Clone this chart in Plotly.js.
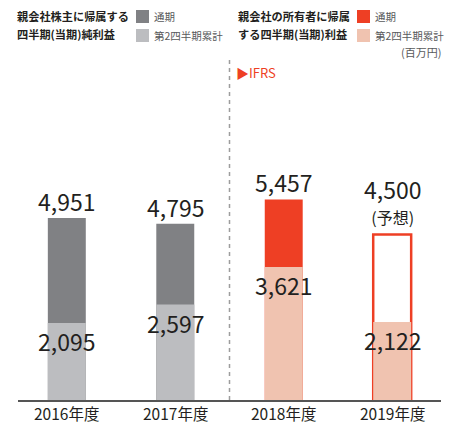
<!DOCTYPE html>
<html>
<head>
<meta charset="utf-8">
<script src="https://cdn.plot.ly/plotly-3.0.1.min.js"></script>
<style>html,body{margin:0;padding:0;background:#fff;}#chart{width:457px;height:424px;}</style>
</head>
<body>
<div id="chart"></div>
<script>
// ---- data ----
const categories = ['2016年度', '2017年度', '2018年度', '2019年度'];
const fullYear = [4951, 4795, 5457, 4500];     // 通期
const secondQuarter = [2095, 2597, 3621, 2122]; // 第2四半期累計
const forecastFlags = [false, false, false, true]; // 2019 is 予想

// ---- styling ----
const FONT = '"Noto Sans CJK JP", "Noto Sans", sans-serif';
const TXT = '#231f20';
const GRAY_DARK = '#808184';
const GRAY_LIGHT = '#bcbdc0';
const RED = '#ee3f24';
const SALMON = '#f0c3b0';
const isIFRS = [false, false, true, true];

const W = 457, H = 424;
const M = {l: 18, r: 16, t: 60, b: 24};
const PW = W - M.l - M.r, PH = H - M.t - M.b;
const px = x => (x - M.l) / PW;
const py = y => (H - M.b - y) / PH;

const fmt = v => v.toLocaleString('en-US');

const topColors = fullYear.map((v, i) => forecastFlags[i] ? '#ffffff' : (isIFRS[i] ? RED : GRAY_DARK));
const topLineColors = fullYear.map((v, i) => forecastFlags[i] ? RED : 'rgba(0,0,0,0)');
const topLineWidths = fullYear.map((v, i) => forecastFlags[i] ? 2.5 : 0);
const lowColors = secondQuarter.map((v, i) => isIFRS[i] ? SALMON : GRAY_LIGHT);

const traces = [
  {type: 'bar', x: categories, y: fullYear, width: 0.35,
   marker: {color: topColors, line: {color: topLineColors, width: topLineWidths}},
   hoverinfo: 'skip', showlegend: false},
  {type: 'bar', x: categories, y: secondQuarter, width: 0.35,
   marker: {color: lowColors, line: {width: 0}},
   hoverinfo: 'skip', showlegend: false}
];

const annotations = [];
categories.forEach((c, i) => {
  if (forecastFlags[i]) {
    annotations.push({x: c, y: fullYear[i], xref: 'x', yref: 'y',
      text: '<span style="font-size:23px">' + fmt(fullYear[i]) + '</span><br><span style="font-size:16px">(予想)</span>',
      showarrow: false, yanchor: 'bottom', yshift: 4,
      font: {family: FONT, size: 19, color: TXT}});
  } else {
    annotations.push({x: c, y: fullYear[i], xref: 'x', yref: 'y', text: fmt(fullYear[i]),
      showarrow: false, yanchor: 'middle', yshift: 17,
      font: {family: FONT, size: 23, color: TXT}});
  }
  annotations.push({x: c, y: secondQuarter[i], xref: 'x', yref: 'y', text: fmt(secondQuarter[i]),
    showarrow: false, yanchor: 'middle', yshift: -18,
    font: {family: FONT, size: 23, color: TXT}});
  // category label under the axis
  annotations.push({x: c, y: py(413), xref: 'x', yref: 'paper', text: c,
    showarrow: false, yanchor: 'middle',
    font: {family: FONT, size: 15.5, color: TXT}});
});

function txt(text, x, y, size, color, weight, xanchor) {
  annotations.push({xref: 'paper', yref: 'paper', x: px(x), y: py(y), text: text,
    showarrow: false, xanchor: xanchor || 'left', yanchor: 'middle',
    font: {family: FONT, size: size, color: color, weight: weight || 400}});
}
// legend headers
txt('親会社株主に帰属する', 15, 16, 11.2, TXT, 700);
txt('四半期(当期)純利益', 15, 34, 11.2, TXT, 700);
txt('通期', 152, 16, 10.5, '#58595b');
txt('第2四半期累計', 152, 35, 10.5, '#58595b');
txt('親会社の所有者に帰属', 236, 16, 11.2, TXT, 700);
txt('する四半期(当期)利益', 236, 34, 11.2, TXT, 700);
txt('通期', 373, 16, 10.5, '#58595b');
txt('第2四半期累計', 373, 35, 10.5, '#58595b');
txt('(百万円)', 443, 52, 11, '#58595b', 400, 'right');
txt('▶IFRS', 234, 72, 13, RED);

function sq(x0, y0, x1, y1, color) {
  return {type: 'rect', xref: 'paper', yref: 'paper', x0: px(x0), x1: px(x1), y0: py(y1), y1: py(y0),
    fillcolor: color, line: {width: 0}, layer: 'above'};
}
const shapes = [
  sq(136, 10, 149, 23, GRAY_DARK),
  sq(136, 29, 149, 42, GRAY_LIGHT),
  sq(357, 10, 370, 23, RED),
  sq(357, 29, 370, 42, SALMON),
  {type: 'line', xref: 'x', yref: 'paper', x0: 1.5, x1: 1.5, y0: 0, y1: py(60),
   line: {color: '#9d9d9d', width: 1.5, dash: '4px,4px'}, layer: 'below'}
];

const layout = {
  width: W, height: H,
  margin: M,
  paper_bgcolor: '#ffffff', plot_bgcolor: '#ffffff',
  barmode: 'overlay',
  showlegend: false,
  xaxis: {type: 'category', range: [-0.45, 3.45], showline: true, linecolor: '#555555', linewidth: 1.5,
    ticks: '', showgrid: false, zeroline: false, fixedrange: true, showticklabels: false},
  yaxis: {range: [0, PH / 0.03676], showgrid: false, zeroline: false, showticklabels: false,
    showline: false, ticks: '', fixedrange: true},
  annotations: annotations,
  shapes: shapes,
  font: {family: FONT}
};

Plotly.newPlot('chart', traces, layout, {staticPlot: true, displayModeBar: false});
</script>
</body>
</html>
